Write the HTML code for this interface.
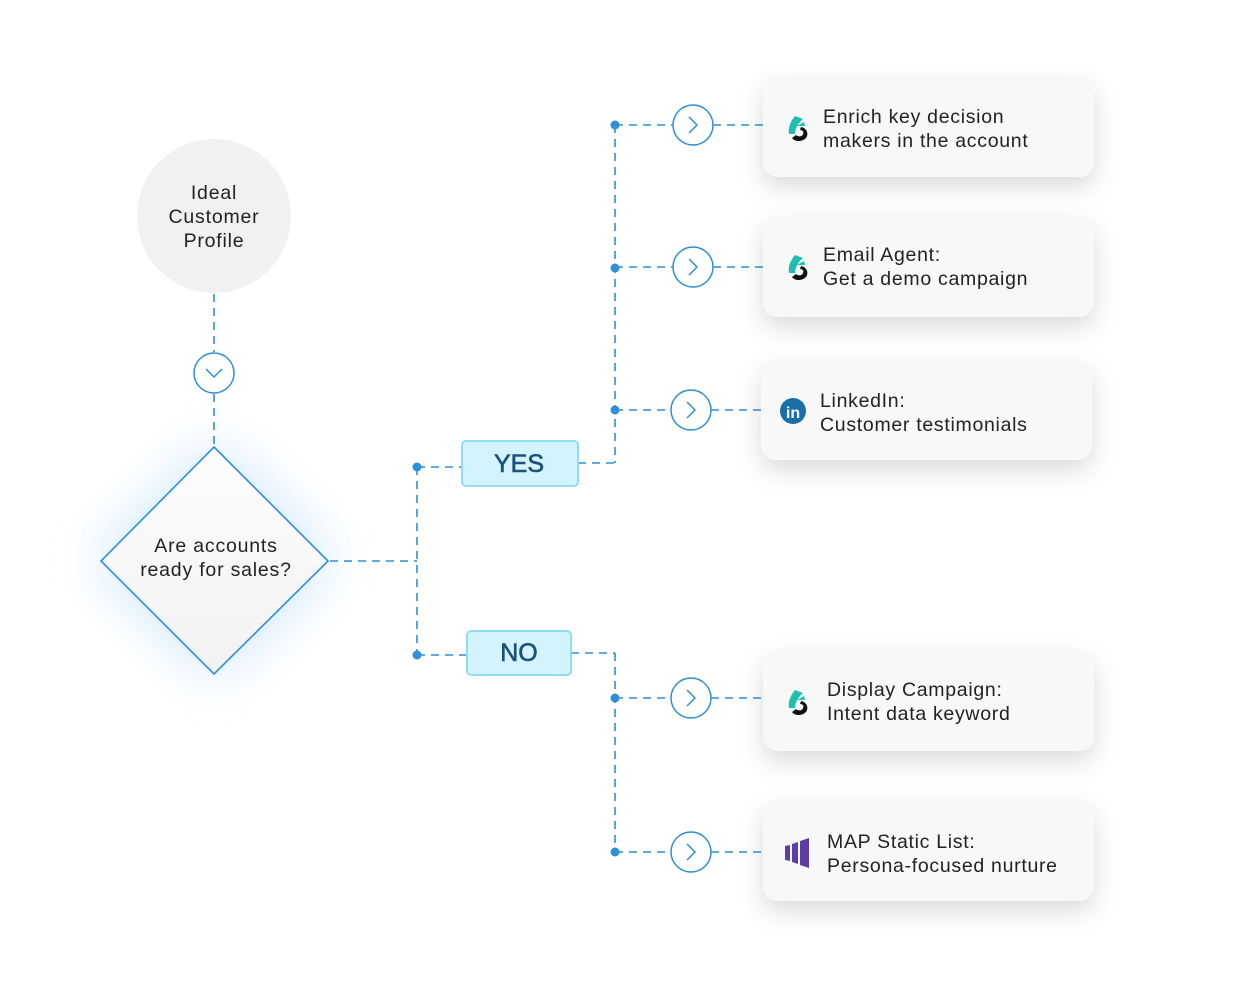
<!DOCTYPE html>
<html><head><meta charset="utf-8"><style>
html,body{margin:0;padding:0;background:#fff;width:1240px;height:1000px;overflow:hidden}
svg text{font-family:"Liberation Sans",sans-serif}
</style></head><body>
<svg width="1240" height="1000" viewBox="0 0 1240 1000" xmlns="http://www.w3.org/2000/svg">
<defs>
<filter id="sh" x="-25%" y="-40%" width="150%" height="190%">
<feDropShadow dx="0" dy="10" stdDeviation="12" flood-color="#000" flood-opacity="0.14"/>
</filter>
<filter id="glow" x="-60%" y="-60%" width="220%" height="220%">
<feGaussianBlur stdDeviation="28"/>
</filter>
<linearGradient id="cg" x1="0" y1="0" x2="0" y2="1"><stop offset="0" stop-color="#fdfdfd"/><stop offset="1" stop-color="#f2f2f2"/></linearGradient>
<g id="ic6">
<path d="M-4,-13 C-9,-7 -11,-1 -10,5 L-4,5 C-4,0 -1,-6 4,-10 Z" fill="#1dbfb0"/>
<path d="M-2,-3 L5,-7 L6,-3 Z" fill="#1dbfb0"/>
<path d="M2,-2 C8,-1 10,5 7,9 C3,13 -4,13 -7,9 L-3,6 C-1,8 3,8 4,5 C5,3 4,1 1,1 Z" fill="#111"/>
</g>
</defs>

<polygon points="214,447 328,561 214,674 101,561" fill="#bfe2fb" filter="url(#glow)" opacity="0.9"/>

<g stroke="#2f8fd8" stroke-width="1.6" stroke-dasharray="8,6" fill="none">
<line x1="214" y1="294" x2="214" y2="352"/>
<line x1="214" y1="394" x2="214" y2="447"/>
<line x1="330" y1="561" x2="417" y2="561"/>
<line x1="417" y1="467" x2="417" y2="655"/>
<line x1="417" y1="467" x2="462" y2="467"/>
<line x1="417" y1="655" x2="467" y2="655"/>
<line x1="578" y1="463" x2="615" y2="463"/>
<line x1="615" y1="125" x2="615" y2="463"/>
<line x1="571" y1="653" x2="615" y2="653"/>
<line x1="615" y1="653" x2="615" y2="852"/>
<line x1="615" y1="125" x2="673" y2="125"/><line x1="713" y1="125" x2="763" y2="125"/>
<line x1="615" y1="267" x2="673" y2="267"/><line x1="713" y1="267" x2="763" y2="267"/>
<line x1="615" y1="410" x2="671" y2="410"/><line x1="711" y1="410" x2="761" y2="410"/>
<line x1="615" y1="698" x2="671" y2="698"/><line x1="711" y1="698" x2="763" y2="698"/>
<line x1="615" y1="852" x2="671" y2="852"/><line x1="711" y1="852" x2="763" y2="852"/>
</g>
<g fill="#2f8fd8">
<circle cx="417" cy="467" r="4.5"/><circle cx="417" cy="655" r="4.5"/>
<circle cx="615" cy="125" r="4.5"/><circle cx="615" cy="268" r="4.5"/><circle cx="615" cy="410" r="4.5"/>
<circle cx="615" cy="698" r="4.5"/><circle cx="615" cy="852" r="4.5"/>
</g>

<circle cx="214" cy="216" r="77" fill="#f1f1f1"/>
<g font-size="19.5" fill="#222" text-anchor="middle" letter-spacing="0.8">
<text x="214" y="199">Ideal</text><text x="214" y="223">Customer</text><text x="214" y="247">Profile</text>
</g>

<circle cx="214" cy="373" r="20" fill="#fff" stroke="#2f8fd8" stroke-width="1.5"/>
<polyline points="206,369 214,377 222,369" fill="none" stroke="#2f8fd8" stroke-width="1.5"/>

<polygon points="214,447 328,561 214,674 101,561" fill="url(#cg)" stroke="#2f8fd8" stroke-width="1.6"/>
<g font-size="19.5" fill="#222" text-anchor="middle" letter-spacing="0.8">
<text x="216" y="552">Are accounts</text><text x="216" y="576">ready for sales?</text>
</g>

<rect x="462" y="441" width="116" height="45" rx="4" fill="#d3f3fd" stroke="#8fdff4" stroke-width="2"/>
<text x="519" y="472" font-size="25" fill="#1d4f7c" stroke="#1d4f7c" stroke-width="0.6" text-anchor="middle">YES</text>
<rect x="467" y="631" width="104" height="44" rx="4" fill="#d3f3fd" stroke="#8fdff4" stroke-width="2"/>
<text x="519" y="661" font-size="25" fill="#1d4f7c" stroke="#1d4f7c" stroke-width="0.6" text-anchor="middle">NO</text>

<g fill="#fff" stroke="#2f8fd8" stroke-width="1.5">
<circle cx="693" cy="125" r="20"/><circle cx="693" cy="267" r="20"/><circle cx="691" cy="410" r="20"/>
<circle cx="691" cy="698" r="20"/><circle cx="691" cy="852" r="20"/>
</g>
<g fill="none" stroke="#2f8fd8" stroke-width="1.5">
<polyline points="689,117 697,125 689,133"/><polyline points="689,259 697,267 689,275"/>
<polyline points="687,402 695,410 687,418"/><polyline points="687,690 695,698 687,706"/>
<polyline points="687,844 695,852 687,860"/>
</g>

<g fill="#f8f8f8" filter="url(#sh)">
<rect x="763" y="77" width="331" height="100" rx="15"/>
<rect x="763" y="217" width="331" height="100" rx="15"/>
<rect x="761" y="361" width="331" height="99" rx="15"/>
<rect x="763" y="651" width="331" height="100" rx="15"/>
<rect x="763" y="801" width="331" height="100" rx="15"/>
</g>
<use href="#ic6" x="799" y="129"/>
<use href="#ic6" x="799" y="268"/>
<use href="#ic6" x="799" y="703"/>
<circle cx="793" cy="411" r="13" fill="#1a6fab"/>
<text x="793" y="418" font-size="16" font-weight="bold" fill="#fff" text-anchor="middle">in</text>
<g fill="#5b3fa5">
<path d="M785,846 L790,845 L790,861 L785,860 Z"/>
<path d="M792,844 L798,842 L798,864 L792,862 Z"/>
<path d="M800,841 L809,838 L809,868 L800,865 Z"/>
</g>
<g font-size="19.5" fill="#222" letter-spacing="0.7">
<text x="823" y="123">Enrich key decision</text><text x="823" y="147">makers in the account</text>
<text x="823" y="261">Email Agent:</text><text x="823" y="285">Get a demo campaign</text>
<text x="820" y="407">LinkedIn:</text><text x="820" y="431">Customer testimonials</text>
<text x="827" y="696">Display Campaign:</text><text x="827" y="720">Intent data keyword</text>
<text x="827" y="848">MAP Static List:</text><text x="827" y="872">Persona-focused nurture</text>
</g>
</svg>
</body></html>
